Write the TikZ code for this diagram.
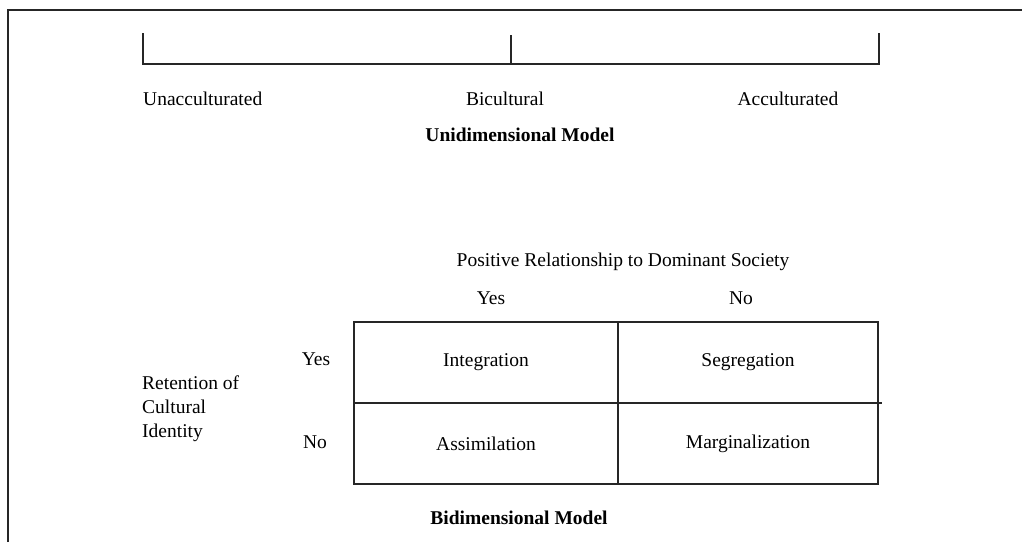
\documentclass[tikz,border=0pt]{standalone}
\usepackage{fontspec}
\setmainfont{Liberation Serif}
\usetikzlibrary{positioning}

\begin{document}
\begin{tikzpicture}[
    x=1pt, y=-1pt,
    node distance=0pt,
    lbl/.style={inner sep=0pt, font=\fontsize{19.5}{24}\selectfont},
    heading/.style={lbl, font=\fontsize{19.5}{24}\selectfont\bfseries},
    cell/.style={rectangle, draw=black!85, line width=1.3pt, outer sep=0pt, minimum width=264pt, minimum height=81pt, font=\fontsize{19.5}{24}\selectfont},
    rule/.style={draw=black!85, line width=1.3pt}
]
    \useasboundingbox (0,0) rectangle (1022,542);
    \draw[rule] (8,542) -- (8,10) -- (1022,10);

    % Unidimensional scale
    \coordinate (scaleL) at (143,64);
    \coordinate (scaleM) at (511,64);
    \coordinate (scaleR) at (879,64);
    \draw[rule] ([yshift=31pt]scaleL) -- (scaleL) -- (scaleR) -- ([yshift=31pt]scaleR);
    \draw[rule] (scaleM) -- ([yshift=29pt]scaleM);
    \node[lbl, anchor=west] (unacc) at (143,99) {Unacculturated};
    \node[lbl] (bicult) at (505,99) {Bicultural};
    \node[lbl] (accult) at (788,99) {Acculturated};
    \node[heading] (unimodel) at (520,135) {Unidimensional Model};

    % Bidimensional grid
    \node[cell] (integ) at (486,362.5) {Integration};
    \node[cell, minimum width=260pt, right=of integ] (segreg) {Segregation};
    \node[cell, below=of integ] (assim) {Assimilation};
    \node[cell, minimum width=260pt, right=of assim] (margin) {Marginalization};
    \draw[rule] (segreg.south east) -- ++(4,0);

    \node[lbl] (posrel) at (623,262) {Positive Relationship to Dominant Society};
    \node[lbl] (colyes) at (491,298) {Yes};
    \node[lbl] (colno) at (741,298) {No};
    \node[lbl] (rowyes) at (316,359) {Yes};
    \node[lbl] (rowno) at (315,442) {No};
    \node[lbl, anchor=west, align=left] (retain) at (142,409) {Retention of\\Cultural\\Identity};
    \node[heading] (bimodel) at (519,518) {Bidimensional Model};
\end{tikzpicture}
\end{document}
